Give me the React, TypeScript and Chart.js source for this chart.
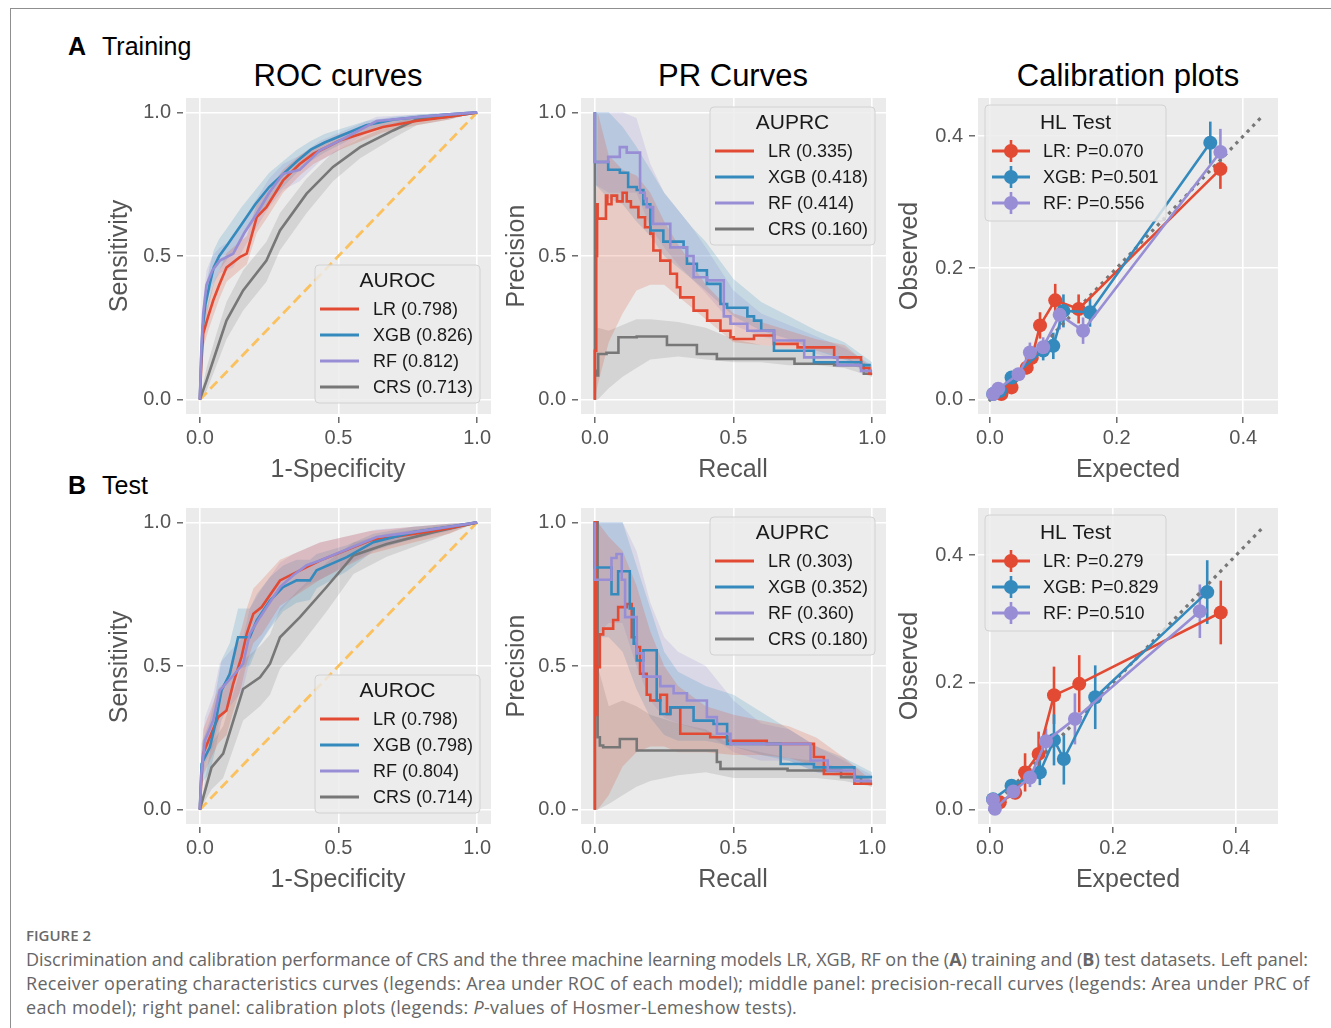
import React, { useEffect, useRef } from "react";
import { Chart, registerables } from "chart.js";

Chart.register(...registerables);

const FONT = "'Liberation Sans', Arial, Helvetica, sans-serif";
const PLOT_BG = "#EBEBEB";
const TICK_COLOR = "#555555";

const C_LR = "#E24A33";
const C_XGB = "#348ABD";
const C_RF = "#988ED5";
const C_CRS = "#777777";
const C_DIAG = "#FBC15E";
const F_LR = "rgba(226,74,51,0.2)";
const F_XGB = "rgba(52,138,189,0.2)";
const F_RF = "rgba(152,142,213,0.2)";
const F_CRS = "rgba(119,119,119,0.2)";

// ---------- tick values ----------
const unitTicks = [0, 0.5, 1.0];
const calTicks = [0, 0.2, 0.4];

// ---------- legend labels ----------
const rocTrainLabels = ["LR (0.798)", "XGB (0.826)", "RF (0.812)", "CRS (0.713)"];
const prTrainLabels = ["LR (0.335)", "XGB (0.418)", "RF (0.414)", "CRS (0.160)"];
const calTrainLabels = ["LR: P=0.070", "XGB: P=0.501", "RF: P=0.556"];
const rocTestLabels = ["LR (0.798)", "XGB (0.798)", "RF (0.804)", "CRS (0.714)"];
const prTestLabels = ["LR (0.303)", "XGB (0.352)", "RF (0.360)", "CRS (0.180)"];
const calTestLabels = ["LR: P=0.279", "XGB: P=0.829", "RF: P=0.510"];

// ---------- reference lines ----------
const chanceX = [0, 1];
const chanceY = [0, 1];
const calDiagTrain = [0, 0.43];
const calDiagTest = [0, 0.445];

// ---------- ROC training ----------
const rocTrLRx = [0, 0.005, 0.012, 0.03, 0.048, 0.07, 0.096, 0.144, 0.169, 0.205, 0.24, 0.3, 0.36, 0.41, 0.505, 0.66, 0.78, 0.9, 1];
const rocTrLRy = [0, 0.12, 0.23, 0.29, 0.345, 0.4, 0.46, 0.496, 0.508, 0.635, 0.67, 0.763, 0.82, 0.856, 0.902, 0.949, 0.97, 0.985, 1];
const rocTrLRlo = [0, 0.08, 0.18, 0.24, 0.29, 0.35, 0.41, 0.45, 0.47, 0.58, 0.63, 0.72, 0.78, 0.82, 0.87, 0.93, 0.955, 0.975, 1];
const rocTrLRhi = [0, 0.17, 0.28, 0.34, 0.4, 0.45, 0.51, 0.55, 0.57, 0.68, 0.72, 0.8, 0.85, 0.88, 0.925, 0.965, 0.985, 0.995, 1];

const rocTrXGBx = [0, 0.005, 0.01, 0.02, 0.035, 0.05, 0.07, 0.1, 0.15, 0.2, 0.25, 0.3, 0.35, 0.4, 0.45, 0.5, 0.6, 0.7, 0.8, 0.9, 1];
const rocTrXGBy = [0, 0.15, 0.25, 0.33, 0.4, 0.46, 0.5, 0.54, 0.61, 0.68, 0.74, 0.785, 0.83, 0.87, 0.895, 0.915, 0.955, 0.975, 0.985, 0.993, 1];
const rocTrXGBlo = [0, 0.1, 0.19, 0.27, 0.34, 0.4, 0.45, 0.49, 0.56, 0.63, 0.69, 0.74, 0.79, 0.83, 0.86, 0.885, 0.935, 0.96, 0.975, 0.988, 1];
const rocTrXGBhi = [0, 0.2, 0.31, 0.39, 0.46, 0.52, 0.56, 0.6, 0.67, 0.73, 0.79, 0.83, 0.87, 0.9, 0.925, 0.94, 0.97, 0.985, 0.993, 0.998, 1];

const rocTrRFx = [0, 0.005, 0.012, 0.024, 0.045, 0.072, 0.12, 0.16, 0.205, 0.25, 0.3, 0.36, 0.433, 0.505, 0.638, 0.8, 0.9, 1];
const rocTrRFy = [0, 0.17, 0.3, 0.4, 0.45, 0.484, 0.508, 0.58, 0.647, 0.72, 0.786, 0.8, 0.868, 0.902, 0.97, 0.985, 0.993, 1];
const rocTrRFlo = [0, 0.12, 0.24, 0.34, 0.4, 0.44, 0.46, 0.53, 0.6, 0.67, 0.73, 0.76, 0.83, 0.87, 0.95, 0.975, 0.988, 1];
const rocTrRFhi = [0, 0.22, 0.35, 0.45, 0.5, 0.53, 0.56, 0.63, 0.7, 0.77, 0.82, 0.85, 0.9, 0.93, 0.985, 0.993, 0.998, 1];

const rocTrCRSx = [0, 0.024, 0.06, 0.096, 0.156, 0.24, 0.289, 0.385, 0.48, 0.578, 0.697, 0.782, 0.9, 1];
const rocTrCRSy = [0, 0.066, 0.171, 0.275, 0.38, 0.484, 0.589, 0.717, 0.81, 0.879, 0.937, 0.975, 0.985, 1];
const rocTrCRSlo = [0, 0.03, 0.12, 0.21, 0.31, 0.41, 0.52, 0.65, 0.76, 0.84, 0.91, 0.955, 0.975, 1];
const rocTrCRShi = [0, 0.11, 0.23, 0.34, 0.45, 0.55, 0.65, 0.77, 0.86, 0.91, 0.96, 0.99, 0.995, 1];

// ---------- ROC test ----------
const rocTeLRx = [0, 0.005, 0.012, 0.036, 0.066, 0.096, 0.12, 0.15, 0.169, 0.193, 0.223, 0.289, 0.385, 0.433, 0.614, 0.77, 0.9, 1];
const rocTeLRy = [0, 0.1, 0.195, 0.252, 0.322, 0.345, 0.438, 0.531, 0.612, 0.682, 0.705, 0.798, 0.844, 0.867, 0.937, 0.96, 0.98, 1];
const rocTeLRlo = [0, 0.05, 0.12, 0.17, 0.23, 0.26, 0.34, 0.43, 0.51, 0.58, 0.61, 0.71, 0.77, 0.8, 0.89, 0.93, 0.96, 1];
const rocTeLRhi = [0, 0.17, 0.28, 0.34, 0.42, 0.45, 0.54, 0.63, 0.7, 0.77, 0.8, 0.87, 0.91, 0.93, 0.97, 0.985, 0.995, 1];

const rocTeXGBx = [0, 0.006, 0.036, 0.054, 0.078, 0.108, 0.138, 0.18, 0.205, 0.253, 0.3, 0.349, 0.397, 0.421, 0.53, 0.626, 0.77, 0.9, 1];
const rocTeXGBy = [0, 0.159, 0.217, 0.29, 0.415, 0.473, 0.6, 0.6, 0.659, 0.728, 0.775, 0.798, 0.798, 0.833, 0.879, 0.931, 0.966, 0.985, 1];
const rocTeXGBlo = [0, 0.09, 0.13, 0.2, 0.31, 0.37, 0.49, 0.5, 0.56, 0.63, 0.69, 0.72, 0.73, 0.77, 0.83, 0.9, 0.945, 0.975, 1];
const rocTeXGBhi = [0, 0.23, 0.31, 0.39, 0.52, 0.58, 0.7, 0.7, 0.75, 0.81, 0.85, 0.87, 0.87, 0.89, 0.92, 0.96, 0.985, 0.995, 1];

const rocTeRFx = [0, 0.005, 0.018, 0.048, 0.072, 0.126, 0.156, 0.18, 0.217, 0.289, 0.337, 0.385, 0.433, 0.638, 0.77, 0.9, 1];
const rocTeRFy = [0, 0.12, 0.24, 0.31, 0.415, 0.473, 0.508, 0.612, 0.67, 0.775, 0.816, 0.851, 0.867, 0.949, 0.966, 0.985, 1];
const rocTeRFlo = [0, 0.06, 0.16, 0.22, 0.32, 0.38, 0.42, 0.52, 0.58, 0.69, 0.74, 0.78, 0.8, 0.91, 0.94, 0.97, 1];
const rocTeRFhi = [0, 0.19, 0.32, 0.4, 0.51, 0.57, 0.6, 0.7, 0.76, 0.86, 0.89, 0.91, 0.93, 0.975, 0.985, 0.995, 1];

const rocTeCRSx = [0, 0.042, 0.084, 0.156, 0.217, 0.253, 0.289, 0.361, 0.457, 0.554, 0.674, 0.843, 1];
const rocTeCRSy = [0, 0.147, 0.195, 0.42, 0.461, 0.508, 0.6, 0.67, 0.775, 0.885, 0.925, 0.966, 1];
const rocTeCRSlo = [0, 0.07, 0.11, 0.31, 0.36, 0.4, 0.49, 0.57, 0.69, 0.82, 0.88, 0.94, 1];
const rocTeCRShi = [0, 0.23, 0.29, 0.52, 0.57, 0.61, 0.7, 0.77, 0.86, 0.93, 0.96, 0.985, 1];

// ---------- PR training (step curves) ----------
const prTrLRx = [0, 0.005, 0.008, 0.01, 0.015, 0.04, 0.045, 0.06, 0.08, 0.1, 0.115, 0.13, 0.157, 0.181, 0.2, 0.211, 0.236, 0.272, 0.296, 0.308, 0.356, 0.405, 0.453, 0.489, 0.501, 0.574, 0.646, 0.731, 0.863, 0.96, 0.99, 1.0];
const prTrLRy = [0, 0.17, 0.5, 0.68, 0.63, 0.63, 0.71, 0.68, 0.71, 0.69, 0.72, 0.69, 0.67, 0.635, 0.6, 0.578, 0.519, 0.484, 0.438, 0.391, 0.356, 0.31, 0.275, 0.24, 0.217, 0.211, 0.223, 0.194, 0.182, 0.147, 0.11, 0.09];
const prTrXGBx = [0, 0.048, 0.09, 0.12, 0.151, 0.175, 0.2, 0.247, 0.32, 0.332, 0.368, 0.404, 0.453, 0.477, 0.55, 0.574, 0.6, 0.646, 0.79, 0.96, 0.995];
const prTrXGBy = [1.0, 0.827, 0.8, 0.79, 0.74, 0.73, 0.68, 0.589, 0.55, 0.53, 0.473, 0.45, 0.403, 0.333, 0.32, 0.29, 0.275, 0.24, 0.17, 0.13, 0.12];
const prTrRFx = [0, 0.048, 0.09, 0.115, 0.163, 0.18, 0.187, 0.21, 0.272, 0.332, 0.356, 0.405, 0.465, 0.489, 0.55, 0.646, 0.755, 0.875, 0.96, 1.0];
const prTrRFy = [1.0, 0.827, 0.845, 0.879, 0.86, 0.72, 0.7, 0.67, 0.612, 0.53, 0.5, 0.426, 0.415, 0.29, 0.264, 0.24, 0.206, 0.147, 0.12, 0.1];
const prTrCRSx = [0, 0, 0.003, 0.012, 0.042, 0.085, 0.151, 0.26, 0.368, 0.44, 0.72, 0.863, 0.97, 1.0];
const prTrCRSy = [0, 1.0, 0.1, 0.084, 0.159, 0.163, 0.217, 0.22, 0.19, 0.159, 0.142, 0.125, 0.12, 0.09];

const prTrLRbx = [0, 0.01, 0.05, 0.1, 0.15, 0.2, 0.25, 0.3, 0.35, 0.4, 0.5, 0.6, 0.7, 0.8, 0.9, 1.0];
const prTrLRlo = [0, 0.05, 0.2, 0.3, 0.38, 0.4, 0.4, 0.36, 0.32, 0.28, 0.2, 0.19, 0.18, 0.17, 0.15, 0.08];
const prTrLRhi = [0.2, 1.0, 0.85, 0.8, 0.78, 0.72, 0.62, 0.54, 0.47, 0.4, 0.3, 0.27, 0.24, 0.21, 0.19, 0.11];
const prTrMLbx = [0, 0.05, 0.1, 0.15, 0.2, 0.25, 0.3, 0.35, 0.4, 0.5, 0.6, 0.7, 0.8, 0.9, 1.0];
const prTrXGBlo = [0.75, 0.7, 0.68, 0.62, 0.57, 0.5, 0.46, 0.42, 0.38, 0.29, 0.24, 0.21, 0.17, 0.14, 0.1];
const prTrXGBhi = [1.0, 1.0, 0.95, 0.88, 0.8, 0.72, 0.66, 0.6, 0.55, 0.42, 0.34, 0.29, 0.24, 0.2, 0.13];
const prTrRFlo = [0.75, 0.72, 0.72, 0.72, 0.6, 0.53, 0.47, 0.42, 0.37, 0.26, 0.22, 0.2, 0.16, 0.13, 0.09];
const prTrRFhi = [1.0, 1.0, 1.0, 0.98, 0.82, 0.72, 0.66, 0.6, 0.53, 0.38, 0.3, 0.26, 0.22, 0.18, 0.12];
const prTrCRSbx = [0, 0.01, 0.05, 0.1, 0.15, 0.2, 0.3, 0.4, 0.5, 0.6, 0.7, 0.8, 0.9, 1.0];
const prTrCRSlo = [0, 0, 0.04, 0.08, 0.11, 0.14, 0.15, 0.14, 0.13, 0.13, 0.12, 0.12, 0.11, 0.08];
const prTrCRShi = [0.5, 0.25, 0.24, 0.26, 0.28, 0.28, 0.27, 0.25, 0.21, 0.19, 0.18, 0.17, 0.15, 0.1];

// ---------- PR test ----------
const prTeLRx = [0, 0.005, 0.008, 0.018, 0.03, 0.066, 0.084, 0.115, 0.133, 0.151, 0.163, 0.187, 0.2, 0.236, 0.26, 0.272, 0.308, 0.332, 0.416, 0.477, 0.62, 0.79, 0.826, 0.936, 1.0];
const prTeLRy = [0, 1.0, 0.33, 0.496, 0.61, 0.63, 0.66, 0.705, 0.716, 0.6, 0.566, 0.473, 0.4, 0.38, 0.4, 0.333, 0.356, 0.264, 0.264, 0.252, 0.24, 0.229, 0.183, 0.124, 0.09];
const prTeXGBx = [0, 0.06, 0.084, 0.126, 0.14, 0.151, 0.175, 0.223, 0.236, 0.272, 0.356, 0.428, 0.477, 0.598, 0.67, 0.79, 0.936, 1.0];
const prTeXGBy = [1.0, 0.843, 0.75, 0.83, 0.7, 0.578, 0.519, 0.555, 0.38, 0.333, 0.356, 0.31, 0.298, 0.229, 0.229, 0.159, 0.147, 0.113];
const prTeRFx = [0, 0.06, 0.078, 0.097, 0.109, 0.151, 0.175, 0.236, 0.284, 0.332, 0.404, 0.44, 0.489, 0.55, 0.778, 0.84, 0.936, 1.0];
const prTeRFy = [1.0, 0.8, 0.876, 0.89, 0.8, 0.67, 0.544, 0.463, 0.43, 0.405, 0.38, 0.322, 0.264, 0.229, 0.229, 0.171, 0.136, 0.1];
const prTeCRSx = [0, 0.01, 0.018, 0.03, 0.09, 0.151, 0.175, 0.44, 0.453, 0.695, 0.888, 0.96, 1.0];
const prTeCRSy = [0, 1.0, 0.252, 0.223, 0.217, 0.246, 0.206, 0.206, 0.166, 0.142, 0.136, 0.113, 0.09];

const prTeLRbx = [0, 0.01, 0.05, 0.1, 0.15, 0.2, 0.25, 0.3, 0.4, 0.5, 0.6, 0.7, 0.8, 0.9, 1.0];
const prTeLRlo = [0, 0, 0.05, 0.15, 0.2, 0.22, 0.22, 0.2, 0.2, 0.19, 0.19, 0.18, 0.15, 0.12, 0.08];
const prTeLRhi = [1.0, 1.0, 0.95, 0.9, 0.78, 0.62, 0.5, 0.43, 0.36, 0.33, 0.31, 0.29, 0.25, 0.18, 0.1];
const prTeMLbx = [0, 0.05, 0.1, 0.15, 0.2, 0.25, 0.3, 0.4, 0.5, 0.6, 0.7, 0.8, 0.9, 1.0];
const prTeXGBlo = [0.6, 0.6, 0.55, 0.42, 0.32, 0.26, 0.24, 0.24, 0.22, 0.19, 0.17, 0.13, 0.12, 0.1];
const prTeXGBhi = [1.0, 1.0, 1.0, 0.85, 0.7, 0.55, 0.48, 0.43, 0.4, 0.34, 0.28, 0.22, 0.18, 0.13];
const prTeRFlo = [0.6, 0.65, 0.65, 0.5, 0.38, 0.32, 0.3, 0.27, 0.2, 0.17, 0.17, 0.13, 0.11, 0.09];
const prTeRFhi = [1.0, 1.0, 1.0, 0.9, 0.72, 0.6, 0.55, 0.5, 0.38, 0.3, 0.28, 0.22, 0.17, 0.12];
const prTeCRSbx = [0, 0.01, 0.05, 0.1, 0.15, 0.2, 0.3, 0.4, 0.5, 0.6, 0.7, 0.8, 0.9, 1.0];
const prTeCRSlo = [0, 0, 0.02, 0.05, 0.08, 0.1, 0.12, 0.13, 0.11, 0.11, 0.11, 0.11, 0.1, 0.08];
const prTeCRShi = [1.0, 0.5, 0.36, 0.38, 0.36, 0.33, 0.3, 0.28, 0.22, 0.2, 0.18, 0.17, 0.14, 0.1];

// ---------- Calibration training ----------
const calTrLRx = [0.018, 0.034, 0.058, 0.066, 0.079, 0.103, 0.14, 0.364];
const calTrLRy = [0.009, 0.019, 0.049, 0.064, 0.113, 0.151, 0.138, 0.35];
const calTrLRerr = [0.004, 0.006, 0.01, 0.012, 0.02, 0.025, 0.022, 0.03];
const calTrXGBx = [0.005, 0.016, 0.034, 0.084, 0.1, 0.116, 0.158, 0.348];
const calTrXGBy = [0.009, 0.014, 0.034, 0.075, 0.082, 0.135, 0.133, 0.39];
const calTrXGBerr = [0.003, 0.005, 0.008, 0.015, 0.02, 0.025, 0.022, 0.032];
const calTrRFx = [0.005, 0.013, 0.045, 0.063, 0.084, 0.11, 0.147, 0.364];
const calTrRFy = [0.009, 0.017, 0.039, 0.072, 0.08, 0.129, 0.105, 0.376];
const calTrRFerr = [0.003, 0.005, 0.008, 0.015, 0.015, 0.022, 0.02, 0.035];

// ---------- Calibration test ----------
const calTeLRx = [0.016, 0.041, 0.057, 0.079, 0.104, 0.145, 0.375];
const calTeLRy = [0.012, 0.027, 0.059, 0.088, 0.18, 0.198, 0.31];
const calTeLRerr = [0.006, 0.01, 0.03, 0.035, 0.045, 0.045, 0.05];
const calTeXGBx = [0.005, 0.035, 0.081, 0.104, 0.12, 0.171, 0.353];
const calTeXGBy = [0.017, 0.038, 0.059, 0.11, 0.08, 0.177, 0.342];
const calTeXGBerr = [0.004, 0.01, 0.02, 0.04, 0.04, 0.05, 0.05];
const calTeRFx = [0.005, 0.008, 0.038, 0.065, 0.091, 0.138, 0.341];
const calTeRFy = [0.016, 0.002, 0.029, 0.051, 0.108, 0.143, 0.312];
const calTeRFerr = [0.004, 0.004, 0.008, 0.015, 0.02, 0.04, 0.042];

// ---------- types ----------
type Band = { x: number[]; lo: number[]; hi: number[] };
type Series = { label: string; color: string; fill: string; x: number[]; y: number[]; order: number; band?: Band; err?: number[] };
type LegendCfg = { x: number; y: number; w: number; h: number; title: string; titleDy: number; firstDy: number; step: number; lx1: number; lx2: number; tx: number; marker: boolean };
type RefLine = { x: number[]; y: number[]; color: string; dash: number[]; width: number; cap: CanvasLineCap };
type PanelCfg = {
  plotLeft: number; plotTop: number; plotW: number; plotH: number;
  xRange: [number, number]; yRange: [number, number];
  xTicks: number[]; yTicks: number[];
  series: Series[]; stepped: boolean; markers: boolean;
  refLine: RefLine; legend: LegendCfg;
};

const pts = (xs: number[], ys: number[]) => xs.map((v, i) => ({ x: v, y: ys[i] }));

const rocSeries = (lab: string[], d: number[][][]): Series[] => [
  { label: lab[0], color: C_LR, fill: F_LR, x: d[0][0], y: d[0][1], band: { x: d[0][0], lo: d[0][2], hi: d[0][3] }, order: 3 },
  { label: lab[1], color: C_XGB, fill: F_XGB, x: d[1][0], y: d[1][1], band: { x: d[1][0], lo: d[1][2], hi: d[1][3] }, order: 2 },
  { label: lab[2], color: C_RF, fill: F_RF, x: d[2][0], y: d[2][1], band: { x: d[2][0], lo: d[2][2], hi: d[2][3] }, order: 1 },
  { label: lab[3], color: C_CRS, fill: F_CRS, x: d[3][0], y: d[3][1], band: { x: d[3][0], lo: d[3][2], hi: d[3][3] }, order: 4 },
];

const ROC_LEGEND = (title: string): LegendCfg => ({ x: 129, y: 167, w: 165, h: 138, title, titleDy: 16, firstDy: 44, step: 26, lx1: 5, lx2: 44, tx: 58, marker: false });
const PR_LEGEND = (title: string): LegendCfg => ({ x: 129, y: 9, w: 165, h: 138, title, titleDy: 16, firstDy: 44, step: 26, lx1: 5, lx2: 44, tx: 58, marker: false });
const CAL_LEGEND = (title: string): LegendCfg => ({ x: 7, y: 7, w: 181, h: 116, title, titleDy: 18, firstDy: 46, step: 26, lx1: 7, lx2: 45, tx: 58, marker: true });

const chanceLine: RefLine = { x: chanceX, y: chanceY, color: C_DIAG, dash: [10, 5], width: 2.8, cap: "butt" };
const ROW1 = 98, ROW2 = 508, PH = 316;
const COL_ROC = 186, COL_PR = 581, COL_CAL = 978;
const noLine: RefLine = { x: [], y: [], color: C_DIAG, dash: [], width: 0, cap: "butt" };

const panels: PanelCfg[] = [
  {
    plotLeft: COL_ROC, plotTop: ROW1, plotW: 305, plotH: PH, xRange: [-0.05, 1.05], yRange: [-0.05, 1.05], xTicks: unitTicks, yTicks: unitTicks,
    series: rocSeries(rocTrainLabels, [[rocTrLRx, rocTrLRy, rocTrLRlo, rocTrLRhi], [rocTrXGBx, rocTrXGBy, rocTrXGBlo, rocTrXGBhi], [rocTrRFx, rocTrRFy, rocTrRFlo, rocTrRFhi], [rocTrCRSx, rocTrCRSy, rocTrCRSlo, rocTrCRShi]]),
    stepped: false, markers: false, refLine: chanceLine, legend: ROC_LEGEND("AUROC"),
  },
  {
    plotLeft: COL_PR, plotTop: ROW1, plotW: 305, plotH: PH, xRange: [-0.05, 1.05], yRange: [-0.05, 1.05], xTicks: unitTicks, yTicks: unitTicks,
    series: [
      { label: prTrainLabels[0], color: C_LR, fill: F_LR, x: prTrLRx, y: prTrLRy, band: { x: prTrLRbx, lo: prTrLRlo, hi: prTrLRhi }, order: 3 },
      { label: prTrainLabels[1], color: C_XGB, fill: F_XGB, x: prTrXGBx, y: prTrXGBy, band: { x: prTrMLbx, lo: prTrXGBlo, hi: prTrXGBhi }, order: 2 },
      { label: prTrainLabels[2], color: C_RF, fill: F_RF, x: prTrRFx, y: prTrRFy, band: { x: prTrMLbx, lo: prTrRFlo, hi: prTrRFhi }, order: 1 },
      { label: prTrainLabels[3], color: C_CRS, fill: F_CRS, x: prTrCRSx, y: prTrCRSy, band: { x: prTrCRSbx, lo: prTrCRSlo, hi: prTrCRShi }, order: 4 },
    ],
    stepped: true, markers: false, refLine: noLine, legend: PR_LEGEND("AUPRC"),
  },
  {
    plotLeft: COL_CAL, plotTop: ROW1, plotW: 300, plotH: PH, xRange: [-0.019, 0.455], yRange: [-0.0213, 0.4578], xTicks: calTicks, yTicks: calTicks,
    series: [
      { label: calTrainLabels[0], color: C_LR, fill: F_LR, x: calTrLRx, y: calTrLRy, err: calTrLRerr, order: 3 },
      { label: calTrainLabels[1], color: C_XGB, fill: F_XGB, x: calTrXGBx, y: calTrXGBy, err: calTrXGBerr, order: 2 },
      { label: calTrainLabels[2], color: C_RF, fill: F_RF, x: calTrRFx, y: calTrRFy, err: calTrRFerr, order: 1 },
    ],
    stepped: false, markers: true, refLine: { x: calDiagTrain, y: calDiagTrain, color: "#777777", dash: [0.1, 8], width: 3.2, cap: "square" }, legend: CAL_LEGEND("HL Test"),
  },
  {
    plotLeft: COL_ROC, plotTop: ROW2, plotW: 305, plotH: PH, xRange: [-0.05, 1.05], yRange: [-0.05, 1.05], xTicks: unitTicks, yTicks: unitTicks,
    series: rocSeries(rocTestLabels, [[rocTeLRx, rocTeLRy, rocTeLRlo, rocTeLRhi], [rocTeXGBx, rocTeXGBy, rocTeXGBlo, rocTeXGBhi], [rocTeRFx, rocTeRFy, rocTeRFlo, rocTeRFhi], [rocTeCRSx, rocTeCRSy, rocTeCRSlo, rocTeCRShi]]),
    stepped: false, markers: false, refLine: chanceLine, legend: ROC_LEGEND("AUROC"),
  },
  {
    plotLeft: COL_PR, plotTop: ROW2, plotW: 305, plotH: PH, xRange: [-0.05, 1.05], yRange: [-0.05, 1.05], xTicks: unitTicks, yTicks: unitTicks,
    series: [
      { label: prTestLabels[0], color: C_LR, fill: F_LR, x: prTeLRx, y: prTeLRy, band: { x: prTeLRbx, lo: prTeLRlo, hi: prTeLRhi }, order: 3 },
      { label: prTestLabels[1], color: C_XGB, fill: F_XGB, x: prTeXGBx, y: prTeXGBy, band: { x: prTeMLbx, lo: prTeXGBlo, hi: prTeXGBhi }, order: 2 },
      { label: prTestLabels[2], color: C_RF, fill: F_RF, x: prTeRFx, y: prTeRFy, band: { x: prTeMLbx, lo: prTeRFlo, hi: prTeRFhi }, order: 1 },
      { label: prTestLabels[3], color: C_CRS, fill: F_CRS, x: prTeCRSx, y: prTeCRSy, band: { x: prTeCRSbx, lo: prTeCRSlo, hi: prTeCRShi }, order: 4 },
    ],
    stepped: true, markers: false, refLine: noLine, legend: PR_LEGEND("AUPRC"),
  },
  {
    plotLeft: COL_CAL, plotTop: ROW2, plotW: 300, plotH: PH, xRange: [-0.0195, 0.468], yRange: [-0.022, 0.474], xTicks: calTicks, yTicks: calTicks,
    series: [
      { label: calTestLabels[0], color: C_LR, fill: F_LR, x: calTeLRx, y: calTeLRy, err: calTeLRerr, order: 3 },
      { label: calTestLabels[1], color: C_XGB, fill: F_XGB, x: calTeXGBx, y: calTeXGBy, err: calTeXGBerr, order: 2 },
      { label: calTestLabels[2], color: C_RF, fill: F_RF, x: calTeRFx, y: calTeRFy, err: calTeRFerr, order: 1 },
    ],
    stepped: false, markers: true, refLine: { x: calDiagTest, y: calDiagTest, color: "#777777", dash: [0.1, 8], width: 3.2, cap: "square" }, legend: CAL_LEGEND("HL Test"),
  },
];

const LEFT_AXIS = 60, BOTTOM_AXIS = 45, PAD_TOP = 10, PAD_RIGHT = 10;

function Panel({ cfg }: { cfg: PanelCfg }) {
  const ref = useRef<HTMLCanvasElement>(null);
  useEffect(() => {
    const canvas = ref.current;
    if (!canvas) return;
    const datasets: any[] = [];
    cfg.series.forEach((s, si) => {
      if (s.band) {
        datasets.push({ data: pts(s.band.x, s.band.hi), borderColor: "rgba(0,0,0,0)", borderWidth: 0, pointRadius: 0, fill: "+1", backgroundColor: s.fill, order: 30 + si });
        datasets.push({ data: pts(s.band.x, s.band.lo), borderColor: "rgba(0,0,0,0)", borderWidth: 0, pointRadius: 0, fill: false, order: 30 + si });
      }
    });
    if (cfg.refLine.x.length) {
      datasets.push({
        data: pts(cfg.refLine.x, cfg.refLine.y), borderColor: cfg.refLine.color, borderWidth: cfg.refLine.width,
        borderDash: cfg.refLine.dash, borderCapStyle: cfg.refLine.cap, pointRadius: 0, fill: false, order: 20,
      });
    }
    cfg.series.forEach((s) => {
      datasets.push({
        data: pts(s.x, s.y), borderColor: s.color, backgroundColor: s.color, borderWidth: 2.6,
        pointRadius: cfg.markers ? 7 : 0, pointBorderWidth: 0, pointBackgroundColor: s.color,
        stepped: cfg.stepped ? "after" : false, fill: false, order: s.order,
      });
    });

    const bgPlugin = {
      id: "plotBg",
      beforeDraw(chart: any) {
        const { ctx, chartArea: a } = chart;
        ctx.save();
        ctx.fillStyle = PLOT_BG;
        ctx.fillRect(a.left, a.top, a.right - a.left, a.bottom - a.top);
        ctx.restore();
      },
    };

    const errPlugin = {
      id: "errBars",
      beforeDatasetsDraw(chart: any) {
        const { ctx } = chart;
        const xs = chart.scales.x, ys = chart.scales.y;
        ctx.save();
        cfg.series.forEach((s) => {
          if (!s.err) return;
          ctx.strokeStyle = s.color;
          ctx.lineWidth = 2.6;
          s.x.forEach((xv, i) => {
            const px = xs.getPixelForValue(xv);
            ctx.beginPath();
            ctx.moveTo(px, ys.getPixelForValue(s.y[i] - s.err![i]));
            ctx.lineTo(px, ys.getPixelForValue(s.y[i] + s.err![i]));
            ctx.stroke();
          });
        });
        ctx.restore();
      },
    };

    const legendPlugin = {
      id: "boxLegend",
      afterDraw(chart: any) {
        const L = cfg.legend;
        const { ctx, chartArea: a } = chart;
        const x0 = a.left + L.x, y0 = a.top + L.y;
        ctx.save();
        ctx.beginPath();
        const r = 4;
        ctx.moveTo(x0 + r, y0);
        ctx.arcTo(x0 + L.w, y0, x0 + L.w, y0 + L.h, r);
        ctx.arcTo(x0 + L.w, y0 + L.h, x0, y0 + L.h, r);
        ctx.arcTo(x0, y0 + L.h, x0, y0, r);
        ctx.arcTo(x0, y0, x0 + L.w, y0, r);
        ctx.closePath();
        ctx.fillStyle = "rgba(236,236,236,0.82)";
        ctx.fill();
        ctx.strokeStyle = "#D2D2D2";
        ctx.lineWidth = 1;
        ctx.stroke();
        ctx.fillStyle = "#1a1a1a";
        ctx.textBaseline = "middle";
        ctx.textAlign = "center";
        ctx.font = `21px ${FONT}`;
        ctx.fillText(L.title, x0 + L.w / 2, y0 + L.titleDy);
        ctx.font = `18px ${FONT}`;
        ctx.textAlign = "left";
        cfg.series.forEach((s, i) => {
          const yy = y0 + L.firstDy + i * L.step;
          ctx.strokeStyle = s.color;
          ctx.lineWidth = 3;
          ctx.beginPath();
          ctx.moveTo(x0 + L.lx1, yy);
          ctx.lineTo(x0 + L.lx2, yy);
          ctx.stroke();
          if (L.marker) {
            ctx.fillStyle = s.color;
            ctx.beginPath();
            ctx.arc(x0 + (L.lx1 + L.lx2) / 2, yy, 7, 0, Math.PI * 2);
            ctx.fill();
            ctx.lineWidth = 2.6;
            ctx.beginPath();
            ctx.moveTo(x0 + (L.lx1 + L.lx2) / 2, yy - 11);
            ctx.lineTo(x0 + (L.lx1 + L.lx2) / 2, yy + 11);
            ctx.stroke();
          }
          ctx.fillStyle = "#1a1a1a";
          ctx.fillText(s.label, x0 + L.tx, yy + 1);
        });
        ctx.restore();
      },
    };

    const tickFmt = (v: any) => Number(v).toFixed(1);
    const chart = new Chart(canvas, {
      type: "line",
      data: { datasets },
      options: {
        animation: false,
        responsive: false,
        maintainAspectRatio: false,
        layout: { padding: { left: 0, right: PAD_RIGHT, top: PAD_TOP, bottom: 0 } },
        plugins: { legend: { display: false }, tooltip: { enabled: false }, title: { display: false } },
        elements: { line: { tension: 0 } },
        scales: {
          x: {
            type: "linear", min: cfg.xRange[0], max: cfg.xRange[1],
            afterBuildTicks: (s: any) => { s.ticks = cfg.xTicks.map((v) => ({ value: v })); },
            afterFit: (s: any) => { s.height = BOTTOM_AXIS; s.paddingLeft = 0; s.paddingRight = 0; },
            ticks: { color: TICK_COLOR, font: { size: 20, family: FONT }, padding: 3, maxRotation: 0, autoSkip: false, callback: tickFmt },
            grid: { color: "#FFFFFF", lineWidth: 1.6, tickColor: TICK_COLOR, tickLength: 9, tickWidth: 1.3, tickBorderDash: [0, 3, 6, 30] },
            border: { display: false },
          },
          y: {
            type: "linear", min: cfg.yRange[0], max: cfg.yRange[1],
            afterBuildTicks: (s: any) => { s.ticks = cfg.yTicks.map((v) => ({ value: v })); },
            afterFit: (s: any) => { s.width = LEFT_AXIS; s.paddingTop = 0; s.paddingBottom = 0; },
            ticks: { color: TICK_COLOR, font: { size: 20, family: FONT }, padding: 6, autoSkip: false, callback: tickFmt },
            grid: { color: "#FFFFFF", lineWidth: 1.6, tickColor: TICK_COLOR, tickLength: 9, tickWidth: 1.3, tickBorderDash: [6, 30] },
            border: { display: false },
          },
        },
      } as any,
      plugins: [bgPlugin, errPlugin, legendPlugin],
    });
    return () => chart.destroy();
  }, [cfg]);

  const w = cfg.plotW + LEFT_AXIS + PAD_RIGHT;
  const h = cfg.plotH + PAD_TOP + BOTTOM_AXIS;
  return (
    <canvas
      ref={ref}
      width={w}
      height={h}
      style={{ position: "absolute", left: cfg.plotLeft - LEFT_AXIS, top: cfg.plotTop - PAD_TOP, width: w, height: h }}
    />
  );
}

function Txt(props: { x: number; y: number; size: number; color?: string; rotate?: boolean; left?: boolean; weight?: number; children: React.ReactNode }) {
  const { x, y, size, color = "#000", rotate = false, left = false, weight = 400, children } = props;
  return (
    <div
      style={{
        position: "absolute", left: x, top: y,
        transform: `translate(${left ? "0" : "-50%"},-50%)${rotate ? " rotate(-90deg)" : ""}`,
        fontSize: size, color, whiteSpace: "nowrap", fontFamily: FONT, lineHeight: 1, fontWeight: weight,
      }}
    >
      {children}
    </div>
  );
}

const CAP_FONT = "'Open Sans', 'Noto Sans', sans-serif";

export default function App() {
  return (
    <div style={{ position: "absolute", left: 0, top: 0, width: 1331, height: 1028, background: "#fff", overflow: "hidden" }}>
      <div style={{ position: "absolute", left: 10, top: 8, width: 1340, height: 1040, borderLeft: "1px solid #8f8f8f", borderTop: "1px solid #8f8f8f" }} />

      <Txt x={68} y={46} size={25} left weight={700}>A</Txt>
      <Txt x={102} y={46} size={25} left>Training</Txt>
      <Txt x={68} y={485} size={25} left weight={700}>B</Txt>
      <Txt x={102} y={485} size={25} left>Test</Txt>

      <Txt x={338} y={75} size={31}>ROC curves</Txt>
      <Txt x={733} y={75} size={31}>PR Curves</Txt>
      <Txt x={1128} y={75} size={31}>Calibration plots</Txt>

      {panels.map((p, i) => (
        <Panel key={i} cfg={p} />
      ))}

      <Txt x={118} y={256} size={25} color="#555" rotate>Sensitivity</Txt>
      <Txt x={515} y={256} size={25} color="#555" rotate>Precision</Txt>
      <Txt x={908} y={256} size={25} color="#555" rotate>Observed</Txt>
      <Txt x={118} y={667} size={25} color="#555" rotate>Sensitivity</Txt>
      <Txt x={515} y={666} size={25} color="#555" rotate>Precision</Txt>
      <Txt x={908} y={666} size={25} color="#555" rotate>Observed</Txt>

      <Txt x={338} y={468} size={25} color="#555">1-Specificity</Txt>
      <Txt x={733} y={468} size={25} color="#555">Recall</Txt>
      <Txt x={1128} y={468} size={25} color="#555">Expected</Txt>
      <Txt x={338} y={878} size={25} color="#555">1-Specificity</Txt>
      <Txt x={733} y={878} size={25} color="#555">Recall</Txt>
      <Txt x={1128} y={878} size={25} color="#555">Expected</Txt>

      <div style={{ position: "absolute", left: 26, top: 926, fontFamily: CAP_FONT, fontSize: 15, fontWeight: 600, color: "#6a6a6a", lineHeight: "18px" }}>FIGURE 2</div>
      <div style={{ position: "absolute", left: 26, top: 947, width: 1300, fontFamily: CAP_FONT, fontSize: 18, color: "#666", lineHeight: "24px", whiteSpace: "nowrap" }}>
        <div style={{ letterSpacing: -0.04 }}>Discrimination and calibration performance of CRS and the three machine learning models LR, XGB, RF on the (<b>A</b>) training and (<b>B</b>) test datasets. Left panel:</div>
        <div style={{ letterSpacing: 0.27 }}>Receiver operating characteristics curves (legends: Area under ROC of each model); middle panel: precision-recall curves (legends: Area under PRC of</div>
        <div style={{ letterSpacing: 0.29 }}>each model); right panel: calibration plots (legends: <i>P</i>-values of Hosmer-Lemeshow tests).</div>
      </div>
    </div>
  );
}
